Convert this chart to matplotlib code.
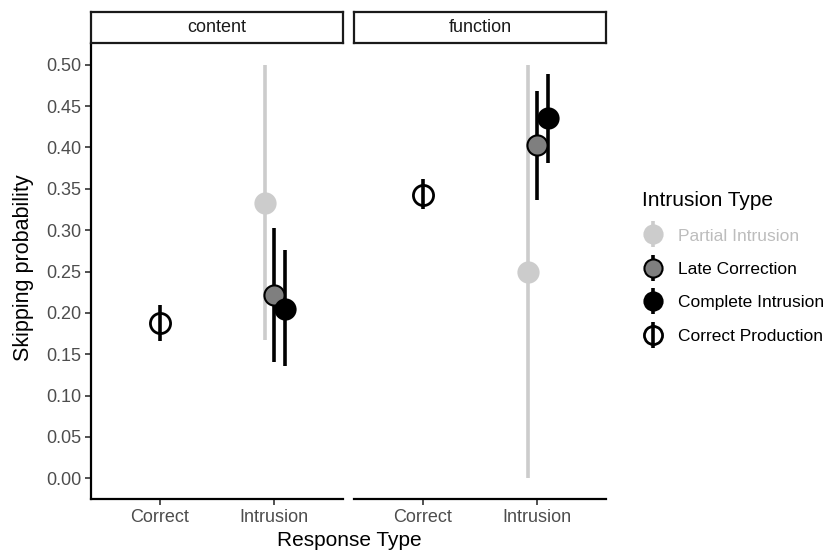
import matplotlib
matplotlib.use("Agg")
import matplotlib.pyplot as plt
import numpy as np
from matplotlib.legend_handler import HandlerErrorbar

plt.rcParams["font.family"] = ["Liberation Sans", "DejaVu Sans"]

facets = ["content", "function"]
response_types = ["Correct", "Intrusion"]

# correct productions (one point per facet, at "Correct")
correct_mean = [0.188, 0.343]
correct_lo = [0.166, 0.325]
correct_hi = [0.210, 0.362]

# intrusion types (at "Intrusion"), per facet
intrusion_types = ["Partial Intrusion", "Late Correction", "Complete Intrusion"]
intrusion_mean = {
    "Partial Intrusion": [0.333, 0.250],
    "Late Correction": [0.222, 0.403],
    "Complete Intrusion": [0.205, 0.435],
}
intrusion_lo = {
    "Partial Intrusion": [0.167, 0.000],
    "Late Correction": [0.141, 0.337],
    "Complete Intrusion": [0.136, 0.381],
}
intrusion_hi = {
    "Partial Intrusion": [0.500, 0.500],
    "Late Correction": [0.302, 0.468],
    "Complete Intrusion": [0.276, 0.489],
}

styles = {
    "Partial Intrusion": dict(face="#cccccc", edge="#cccccc", bar="#cccccc", text="#bdbdbd"),
    "Late Correction": dict(face="#7f7f7f", edge="black", bar="black", text="black"),
    "Complete Intrusion": dict(face="black", edge="black", bar="black", text="black"),
}
offsets = {"Partial Intrusion": -0.085, "Late Correction": 0.0, "Complete Intrusion": 0.09}

W, H = 825, 552
fig = plt.figure(figsize=(W / 100, H / 100), dpi=100)


def px_box(x0, y0, x1, y1):
    return [x0 / W, 1 - y1 / H, (x1 - x0) / W, (y1 - y0) / H]


panel_x = [(91, 343), (354, 606)]
handles = {}
for i, facet in enumerate(facets):
    x0, x1 = panel_x[i]
    ax = fig.add_axes(px_box(x0, 44, x1, 499))

    # strip label box
    sax = fig.add_axes(px_box(x0, 12, x1, 43))
    sax.set_xticks([])
    sax.set_yticks([])
    for s in sax.spines.values():
        s.set_linewidth(1.6)
        s.set_color("#1a1a1a")
    sax.text(0.5, 0.5, facet, ha="center", va="center", fontsize=13, color="#1a1a1a",
             transform=sax.transAxes)

    x = np.arange(len(response_types)) + 1
    for name in intrusion_types:
        st = styles[name]
        m = intrusion_mean[name][i]
        lo = intrusion_lo[name][i]
        hi = intrusion_hi[name][i]
        h = ax.errorbar(x[1] + offsets[name], m, yerr=[[m - lo], [hi - m]], fmt="o",
                        ms=14.5, mfc=st["face"], mec=st["edge"], mew=1.5,
                        ecolor=st["bar"], elinewidth=2.6, capsize=0, zorder=3)
        handles[name] = h

    m = correct_mean[i]
    h = ax.errorbar(x[0], m, yerr=[[m - correct_lo[i]], [correct_hi[i] - m]], fmt="o",
                    ms=14.5, mfc="none", mec="black", mew=2.0,
                    ecolor="black", elinewidth=2.6, capsize=0, zorder=3)
    handles["Correct Production"] = h

    ax.set_xlim(0.4, 2.6)
    ax.set_ylim(-0.025, 0.525)
    ax.set_xticks(x)
    ax.set_xticklabels(response_types, fontsize=13, color="#4d4d4d")
    ax.set_yticks(np.arange(0, 0.51, 0.05))
    ax.spines["top"].set_visible(False)
    ax.spines["right"].set_visible(False)
    ax.spines["bottom"].set_linewidth(1.6)
    ax.spines["left"].set_linewidth(1.6)
    ax.tick_params(axis="both", length=4, width=1.2, color="#333333", pad=3)
    if i == 0:
        ax.set_yticklabels([f"{v:.2f}" for v in np.arange(0, 0.51, 0.05)],
                           fontsize=13, color="#4d4d4d")
    else:
        ax.spines["left"].set_visible(False)
        ax.tick_params(axis="y", left=False, labelleft=False)

fig.text(24 / W, 1 - 268 / H, "Skipping probability", rotation=90, ha="center",
         va="center", fontsize=15.5)
fig.text(349 / W, 1 - 540 / H, "Response Type", ha="center", va="center", fontsize=15)

order = intrusion_types + ["Correct Production"]
leg = fig.legend([handles[n] for n in order], order, loc="upper left",
                 bbox_to_anchor=(630 / W, 1 - 179 / H), frameon=False,
                 title="Intrusion Type", fontsize=12.5, title_fontsize=15,
                 handletextpad=0.85, labelspacing=1.05, handlelength=1.2,
                 markerscale=0.9, borderpad=0.2,
                 handler_map={type(handles["Late Correction"]): HandlerErrorbar(yerr_size=0.75)})
leg._legend_box.align = "left"
for txt, n in zip(leg.get_texts(), order):
    txt.set_color(styles[n]["text"] if n in styles else "black")

fig.savefig("out.png", dpi=100)
